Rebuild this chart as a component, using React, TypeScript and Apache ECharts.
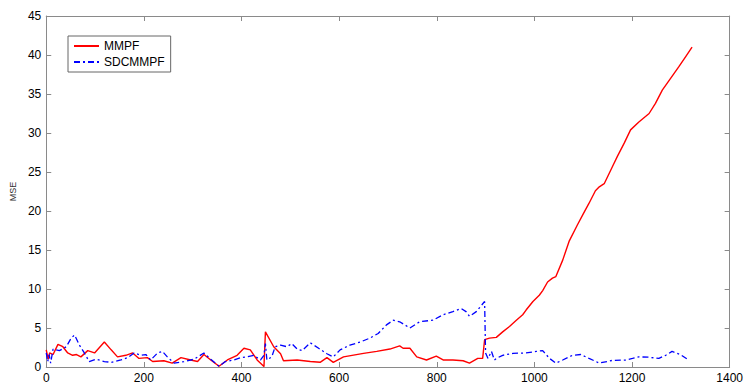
import React, { useEffect, useRef } from "react";
import * as echarts from "echarts";

// MMPF error curve (x = time step, y = MSE)
const mmpfX = [0, 4, 7, 14, 24, 34, 44, 54, 62, 71, 85, 99, 119, 133, 146, 163, 177, 190, 207, 218, 241, 258, 276, 296, 310, 323, 337, 354, 371, 391, 405, 418, 432, 446, 449, 466, 480, 486, 514, 541, 561, 575, 588, 609, 650, 677, 704, 724, 731, 745, 759, 779, 799, 813, 833, 854, 867, 884, 894, 898, 908, 922, 935, 949, 963, 976, 983, 997, 1010, 1017, 1027, 1037, 1044, 1058, 1071, 1088, 1099, 1112, 1125, 1133, 1143, 1160, 1170, 1184, 1197, 1214, 1235, 1248, 1262, 1279, 1296, 1310, 1323];
const mmpfY = [2.2, 1.0, 1.8, 1.6, 2.9, 2.6, 1.8, 1.5, 1.6, 1.3, 2.1, 1.8, 3.2, 2.2, 1.3, 1.5, 1.8, 1.1, 1.2, 0.7, 0.8, 0.5, 1.2, 0.9, 0.7, 1.6, 0.9, 0.1, 0.9, 1.5, 2.4, 2.2, 0.9, 0.05, 4.5, 2.6, 1.7, 0.8, 0.9, 0.7, 0.6, 1.2, 0.6, 1.3, 1.75, 2.0, 2.3, 2.7, 2.4, 2.4, 1.3, 0.9, 1.4, 0.9, 0.9, 0.8, 0.5, 1.1, 1.1, 3.5, 3.7, 3.8, 4.5, 5.2, 6.0, 6.7, 7.3, 8.4, 9.2, 9.8, 10.9, 11.4, 11.6, 13.7, 16.1, 18.2, 19.5, 21.0, 22.6, 23.1, 23.5, 25.7, 27.0, 28.7, 30.4, 31.4, 32.5, 33.8, 35.5, 37.0, 38.5, 39.8, 41.0];

// SDCMMPF error curve
const sdcX = [0, 3, 6, 9, 14, 27, 41, 51, 58, 68, 78, 88, 102, 119, 133, 153, 167, 180, 194, 204, 214, 228, 238, 248, 262, 282, 303, 323, 337, 354, 367, 384, 398, 412, 425, 439, 446, 449, 452, 462, 469, 480, 493, 503, 514, 524, 541, 558, 575, 588, 602, 622, 643, 663, 680, 697, 711, 724, 745, 765, 792, 813, 833, 850, 860, 867, 881, 898, 900, 905, 912, 918, 922, 935, 956, 983, 1004, 1017, 1031, 1044, 1058, 1078, 1095, 1112, 1133, 1160, 1187, 1201, 1214, 1235, 1255, 1269, 1282, 1299, 1316];
const sdcY = [1.8, 0.7, 1.6, 0.5, 2.3, 2.1, 2.6, 3.7, 4.1, 2.8, 1.8, 0.7, 1.0, 0.7, 0.6, 0.9, 1.2, 1.8, 1.5, 1.6, 0.9, 1.8, 2.0, 1.3, 0.5, 0.7, 1.0, 1.8, 1.0, 0.1, 0.7, 0.9, 1.2, 1.3, 1.5, 0.9, 1.5, 3.0, 0.9, 1.3, 2.6, 2.8, 2.6, 3.0, 2.3, 2.1, 3.1, 2.4, 1.7, 1.3, 2.2, 2.8, 3.2, 3.7, 4.3, 5.4, 6.0, 5.8, 5.0, 5.8, 6.0, 6.7, 7.1, 7.5, 7.1, 6.5, 7.1, 8.4, 1.8, 1.1, 2.0, 0.9, 1.1, 1.5, 1.75, 1.8, 2.0, 2.1, 1.1, 0.5, 0.9, 1.5, 1.6, 1.1, 0.5, 0.85, 0.9, 1.1, 1.3, 1.25, 1.1, 1.5, 2.0, 1.6, 0.9];

const seriesNames = ["MMPF", "SDCMMPF"];

const zip = (xs: number[], ys: number[]) => xs.map((x, i) => [x, ys[i]]);

const axisGrey = "#8a8a8a";
const font = "Arial, 'Liberation Sans', Helvetica, sans-serif";

export default function App() {
  const ref = useRef<HTMLDivElement>(null);

  useEffect(() => {
    if (!ref.current) return;
    const chart = echarts.init(ref.current, null, { renderer: "svg" });

    const xBase = {
      type: "value" as const,
      min: 0,
      max: 1400,
      interval: 200,
      splitLine: { show: false },
      axisLine: { show: true, onZero: false, lineStyle: { color: axisGrey, width: 1 } },
      axisTick: { show: true, inside: true, length: 5, lineStyle: { color: axisGrey } },
    };
    const yBase = {
      type: "value" as const,
      min: 0,
      max: 45,
      interval: 5,
      splitLine: { show: false },
      axisLine: { show: true, onZero: false, lineStyle: { color: axisGrey, width: 1 } },
      axisTick: { show: true, inside: true, length: 5, lineStyle: { color: axisGrey } },
    };

    chart.setOption({
      animation: false,
      backgroundColor: "#fff",
      grid: { left: 45, right: 15, top: 16, bottom: 18, containLabel: false },
      legend: {
        orient: "vertical",
        left: 68,
        top: 36,
        padding: [4, 6, 4, 5],
        itemWidth: 25,
        itemHeight: 14,
        itemGap: 4,
        backgroundColor: "#fff",
        borderColor: "#666",
        borderWidth: 1,
        borderRadius: 0,
        itemStyle: { opacity: 0 },
        textStyle: { fontFamily: font, fontSize: 12, color: "#000" },
        data: seriesNames,
      },
      xAxis: [
        {
          ...xBase,
          position: "bottom",
          axisLabel: {
            color: "#000",
            fontFamily: font,
            fontSize: 12,
            margin: 5,
            formatter: (v: number) => String(v),
          },
        },
        { ...xBase, position: "top", axisLabel: { show: false } },
      ],
      yAxis: [
        {
          ...yBase,
          position: "left",
          name: "MSE",
          nameLocation: "middle",
          nameGap: 21,
          nameTextStyle: { fontFamily: font, fontSize: 9, color: "#333" },
          axisLabel: { color: "#000", fontFamily: font, fontSize: 12, margin: 5 },
        },
        { ...yBase, position: "right", axisLabel: { show: false } },
      ],
      series: [
        {
          name: seriesNames[0],
          type: "line",
          data: zip(mmpfX, mmpfY),
          showSymbol: false,
          symbol: "none",
          clip: true,
          lineStyle: { color: "#ff0000", width: 1.4 },
          itemStyle: { color: "#ff0000" },
        },
        {
          name: seriesNames[1],
          type: "line",
          data: zip(sdcX, sdcY),
          showSymbol: false,
          symbol: "none",
          clip: true,
          lineStyle: { color: "#0000ff", width: 1.3, type: [6, 3, 2, 3] },
          itemStyle: { color: "#0000ff" },
        },
      ],
    });

    return () => chart.dispose();
  }, []);

  return <div ref={ref} style={{ width: 746, height: 385, position: "absolute", left: 0, top: 0 }} />;
}
